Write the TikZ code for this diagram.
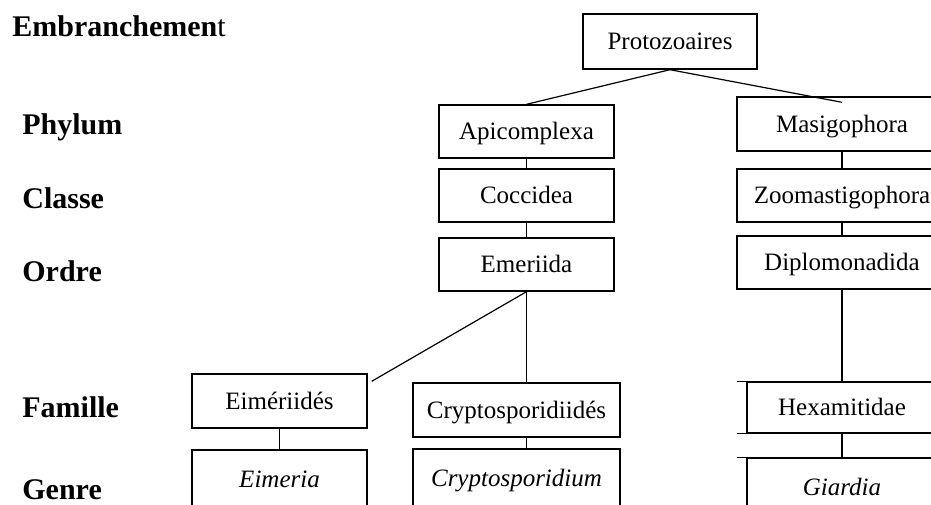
\documentclass[tikz,border=0pt]{standalone}
\usepackage{fontspec}
\setmainfont{Liberation Serif}
\begin{document}
\begin{tikzpicture}[x=0.5pt,y=-0.5pt,
  taxon/.style={draw,line width=0.7pt,inner sep=0pt,text height=8.3pt,text depth=0pt,font=\fontsize{12.5}{14}\selectfont},
  rang/.style={anchor=base west,inner sep=0pt,font=\fontsize{15}{18}\selectfont\bfseries},
  lien/.style={line width=0.6pt},
  gros/.style={line width=1.1pt}]
\useasboundingbox (0,0) rectangle (931,504);
\clip (0,0) rectangle (931,504);
% rangs
\node[rang] (embr) at (12,36) {Embranchemen\mdseries t};
\node[rang] (phyl) at (22,134) {Phylum};
\node[rang] (clas) at (22,208) {Classe};
\node[rang] (ordr) at (22,281) {Ordre};
\node[rang] (fami) at (22,417) {Famille};
\node[rang] (genr) at (22,499) {Genre};
% arbre
\node[taxon,minimum width=87pt,minimum height=27.5pt] (proto) at (670,41.5) {Protozoaires};
\node[taxon,minimum width=87.5pt,minimum height=26.5pt] (apic) at (526.5,131.5) {Apicomplexa};
\node[taxon,minimum width=87.5pt,minimum height=26.5pt] (cocc) at (526.5,195.5) {Coccidea};
\node[taxon,minimum width=87.5pt,minimum height=26.5pt] (emer) at (526.5,264.5) {Emeriida};
\node[taxon,minimum width=105pt,minimum height=27pt] (masi) at (842,124) {Masigophora};
\node[taxon,minimum width=105pt,minimum height=26.5pt] (zoom) at (842,195.5) {Zoomastigophora};
\node[taxon,minimum width=105pt,minimum height=26.5pt] (dipl) at (842,262.5) {Diplomonadida};
\node[taxon,minimum width=95pt,minimum height=25.5pt] (hexa) at (842,407.5) {Hexamitidae};
\node[taxon,minimum width=95pt,minimum height=29.5pt] (giar) at (842,487.5) {\itshape Giardia};
\node[taxon,minimum width=87.5pt,minimum height=27pt] (eimf) at (279.5,401) {Eimériidés};
\node[taxon,minimum width=87.5pt,minimum height=29.5pt] (eimg) at (279.5,479.5) {\itshape Eimeria};
\node[taxon,minimum width=103.5pt,minimum height=27pt] (cryf) at (516.5,410) {Cryptosporidiidés};
\node[taxon,minimum width=103.5pt,minimum height=29.5pt] (cryg) at (516.5,478.5) {\itshape Cryptosporidium};
% liens
\draw[lien] (proto.south) -- (apic.north);
\draw[lien] (proto.south) -- ([yshift=-3pt]masi.north);
\draw[lien] (apic.south) -- (cocc.north);
\draw[lien] (cocc.south) -- (emer.north);
\draw[lien] (emer.south) -- ([shift={(2pt,-4pt)}]eimf.north east);
\draw[lien] (emer.south) -- (emer.south |- cryf.north);
\draw[lien] (cryf.south -| emer.south) -- (cryg.north -| emer.south);
\draw[lien] (eimf.south) -- (eimg.north);
\draw[lien] (masi.south) -- (zoom.north);
\draw[lien] (zoom.south) -- (dipl.north);
\draw[gros] (dipl.south) -- (hexa.north);
\draw[gros] (hexa.south) -- (giar.north);
\draw[lien] (hexa.north west) -- ++(-9,0);
\draw[lien] (hexa.south west) -- ++(-9,0);
\draw[lien] (giar.north west) -- ++(-9,0);
\end{tikzpicture}
\end{document}
